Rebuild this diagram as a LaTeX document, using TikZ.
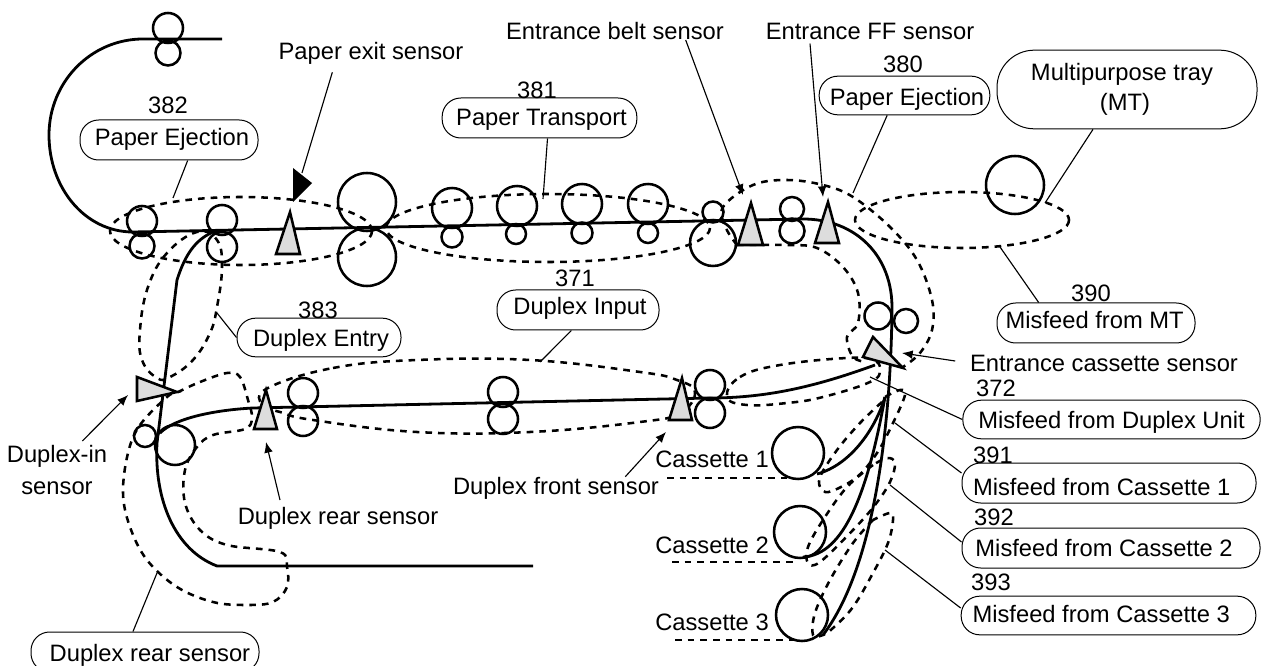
\documentclass[tikz,border=0pt]{standalone}
\usepackage{fontspec}
\setmainfont{Liberation Sans}
\usepackage{xcolor}
\definecolor{sensorfill}{HTML}{DDDDDD}
\usetikzlibrary{arrows.meta,positioning}
\tikzset{
  sheet/.style   = {line width=2.1pt},
  roller/.style  = {line width=1.9pt},
  zone/.style    = {line width=1.9pt,dash pattern=on 5pt off 4.5pt},
  sensor/.style  = {draw,line width=1.9pt,fill=sensorfill},
  pill/.style    = {draw,line width=0.75pt,rounded corners=14pt,inner sep=0pt,
                    text height=12.8pt,text depth=0pt},
  lbl/.style     = {inner sep=0pt,align=center},
  leader/.style  = {line width=0.85pt},
  sig/.style     = {leader,-{Latex[length=8pt,width=6.5pt]}},
}
\newcommand{\pilltxt}[3]{\kern#1\smash{\raisebox{#2}{#3}}\kern-#1\relax}
\begin{document}
\begin{tikzpicture}[x=0.75pt,y=-0.75pt,font=\fontsize{17.8}{22}\selectfont]
  \useasboundingbox (0,0) rectangle (1263,666);
  % paper path
  \draw[sheet] (222,39) -- (143,39) .. controls (91,39) and (49,82) .. (49,135)
     .. controls (49,188) and (85,232) .. (133,232) -- (803,219)
     .. controls (855,219) and (893,255) .. (892,310)
     .. controls (891,400) and (880,560) .. (823,635);
  \draw[sheet] (213,232) .. controls (195,240) and (185,255) .. (177,280) -- (157,443)
     .. controls (154,500) and (175,550) .. (217,566) -- (533,566);
  \draw[sheet] (160,433) .. controls (175,418) and (215,410) .. (253,408) -- (710,398)
     .. controls (770,398) and (820,385) .. (875,365);
  \draw[sheet] (817,474) .. controls (850,465) and (875,430) .. (885,397);
  \draw[sheet] (803,557) .. controls (845,555) and (868,490) .. (885,397);
  % rollers
  \foreach \x/\y/\r in {168/28/15,168/53/12.5,142/221/15,142/246/12.5,222/220/15,222/247/15,
      367/202/29,367/257/29,452/208/20,452/237/10.5,517/206/20,516/234/10,582/204/20,582/233/10.5,
      648/204/20,648/233/10,713/212/10.5,713/243/23,792/209/12,792/231/12.5,1015/185/29,
      878/316/13.5,906/321/12,145/436/11,175/445/20,303/393/15,303/421/15,503/392/15,503/419/15,
      710/385/15,710/413/15,798/453/26,800/532/26,802/615/26}{
    \draw[roller] (\x,\y) circle (\r);
  }
  % cassette stacks
  \draw[zone] (667,478) -- (787,478);
  \draw[zone] (672,562) -- (795,562);
  \draw[zone] (675,640) -- (797,640);
  % jam zones
  \draw[zone] (241,231) ellipse [x radius=131,y radius=34];
  \draw[zone] (548,228) ellipse [x radius=162,y radius=34];
  \draw[zone] (962,220) ellipse [x radius=107,y radius=28];
  \draw[zone] plot[smooth,tension=.6] coordinates {(737,245) (726,228) (723,207) (753,185) (787,180) (823,185)
     (853,197) (890,227) (917,260) (932,300) (932,330) (920,353) (903,367)};
  \draw[zone] plot[smooth,tension=.6] coordinates {(737,245) (787,245) (817,248) (843,267) (858,293)
     (858,323) (847,337) (853,357) (866,362)};
  \draw[zone] plot[smooth cycle,tension=.7] coordinates {(268,388) (333,368) (417,360) (530,360) (640,372)
     (677,380) (695,392) (680,413) (640,422) (530,432) (417,432) (313,420) (280,412) (262,405)};
  \draw[zone] plot[smooth cycle,tension=.7] coordinates {(727,397) (740,377) (780,365) (847,358) (873,360)
     (880,370) (870,382) (823,397) (787,403) (747,405)};
  \draw[zone] plot[smooth cycle,tension=.7] coordinates {(197,232) (167,253) (148,287) (140,330) (142,360)
     (157,378) (170,377) (193,360) (210,333) (217,307) (222,267) (217,240)};
  \draw[zone] plot[smooth cycle,tension=.6] coordinates {(178,392) (200,382) (227,373) (240,377) (248,400)
     (252,418) (245,429) (213,435) (197,447) (185,470) (185,503) (200,530) (227,545) (280,552) (287,567)
     (287,587) (273,602) (247,605) (213,602) (177,587) (147,560) (130,527) (123,493) (128,453) (140,425) (167,397)};
  \draw[zone] plot[smooth,tension=.6] coordinates {(882,402) (860,423) (837,450) (820,477) (822,490) (832,491)
     (857,477) (877,453) (893,423) (905,395) (900,390) (885,397)};
  \draw[zone] plot[smooth,tension=.6] coordinates {(873,465) (847,487) (823,520) (808,547) (808,563) (820,562)
     (853,530) (875,505) (890,482) (895,463) (887,458) (873,465)};
  \draw[zone] plot[smooth,tension=.6] coordinates {(873,520) (853,543) (830,580) (815,613) (813,635) (823,635)
     (833,628) (853,607) (873,573) (888,543) (893,520) (890,513) (873,520)};
  % sensors
  \draw[sensor] (290,212) -- (276,254) -- (300,254) -- cycle;
  \draw[sensor] (751,203) -- (738,245) -- (763,245) -- cycle;
  \draw[sensor] (828,202) -- (815,243) -- (839,243) -- cycle;
  \draw[sensor] (873,337) -- (863,357) -- (903,368) -- cycle;
  \draw[sensor] (137,377) -- (137,401) -- (177,392) -- cycle;
  \draw[sensor] (266,390) -- (254,429) -- (277,429) -- cycle;
  \draw[sensor] (682,378) -- (669,420) -- (692,420) -- cycle;
  % labels
  \node[lbl] (lblExit) at (371,53) {Paper exit sensor};
  \node[lbl] (lblBelt) at (615,31) {Entrance belt sensor};
  \node[lbl] (lblFF) at (870,31) {Entrance FF sensor};
  \node[lbl] (lblCass) at (1104,363) {Entrance cassette sensor};
  \node[lbl] (lblIn) at (57,470) {Duplex-in\\[2pt]sensor};
  \node[lbl] (lblRear) at (338,518) {Duplex rear sensor};
  \node[lbl] (lblFront) at (556,488) {Duplex front sensor};
  \node[lbl] (lblOne) at (712,459) {Cassette 1};
  \node[lbl] (lblTwo) at (712,545) {Cassette 2};
  \node[lbl] (lblThree) at (712,622) {Cassette 3};
  \foreach \nm/\x/\y in {382/168/105,380/903/64,381/537/90,371/575/278,383/318/310,390/1091/293,
      372/996/388,391/993/455,392/994/517,393/991/582}{
    \node[lbl] (num\nm) at (\x,\y) {\nm};
  }
  % pills
  \node[pill,minimum width=133.5pt,minimum height=30pt] (pillEject) at (169,140) {\pilltxt{2.2pt}{2.2pt}{Paper Ejection}};
  \node[pill,minimum width=128pt,minimum height=29pt] (pillFeed) at (904.5,95.5) {\pilltxt{1.9pt}{-1pt}{Paper Ejection}};
  \node[draw,line width=0.75pt,rounded corners=28pt,inner sep=0pt,align=center,minimum width=195pt,minimum height=59pt]
     (pillTray) at (1127,89.5) {Multipurpose tray\hspace*{7.5pt}\\(MT)\hspace*{3pt}};
  \node[pill,minimum width=146pt,minimum height=30pt] (pillTrans) at (539.5,118) {\pilltxt{1.5pt}{0.5pt}{Paper Transport}};
  \node[pill,minimum width=121.5pt,minimum height=30pt] (pillInput) at (578,310) {\pilltxt{1.5pt}{3pt}{Duplex Input}};
  \node[pill,minimum width=123pt,minimum height=29pt] (pillEntry) at (319,337.5) {\pilltxt{1.5pt}{0pt}{Duplex Entry}};
  \node[pill,minimum width=148.5pt,minimum height=30pt] (pillTrayMis) at (1096,323) {\pilltxt{-1pt}{2.2pt}{Misfeed from MT}};
  \node[pill,minimum width=223pt,minimum height=29pt] (pillDup) at (1111.5,419.5) {Misfeed from Duplex Unit};
  \node[pill,minimum width=220.5pt,minimum height=30pt] (pillOne) at (1109,483) {\pilltxt{-5.5pt}{-3pt}{Misfeed from Cassette 1}};
  \node[pill,minimum width=223.5pt,minimum height=30pt] (pillTwo) at (1111,548) {\pilltxt{-5.2pt}{0pt}{Misfeed from Cassette 2}};
  \node[pill,minimum width=221pt,minimum height=29pt] (pillThree) at (1108.5,615.5) {\pilltxt{-5.5pt}{1.5pt}{Misfeed from Cassette 3}};
  \node[pill,minimum width=171pt,minimum height=30pt] (pillRear) at (145,652) {\pilltxt{3.7pt}{-0.7pt}{Duplex rear sensor}};
  % leader ends
  \coordinate (endExit) at (302,173);
  \coordinate (endBelt) at (743,195);
  \coordinate (endFF) at (823,197);
  \coordinate (endCass) at (902,353);
  \coordinate (endIn) at (128,395);
  \coordinate (endRear) at (266,442);
  \coordinate (endFront) at (666,432);
  \coordinate (endEject) at (173,198);
  \coordinate (endFeed) at (853,193);
  \coordinate (endTray) at (1045,203);
  \coordinate (endTrans) at (543,199);
  \coordinate (endInput) at (540,362);
  \coordinate (endEntry) at (217,313);
  \coordinate (endMis) at (1000,247);
  \coordinate (endDup) at (870,377);
  \coordinate (endOne) at (895,423);
  \coordinate (endTwo) at (890,485);
  \coordinate (endThree) at (885,550);
  \coordinate (endBack) at (157,573);
  % leaders
  \draw[leader] ([xshift=-29pt,yshift=-6pt]lblExit.south) -- (endExit);
  \fill (293,202) -- (293,168) -- (312,183) -- cycle;
  \draw[sig] ([xshift=53pt]lblBelt.south) -- (endBelt);
  \draw[sig] ([xshift=-45pt,yshift=-3pt]lblFF.south) -- (endFF);
  \draw[sig] ([xshift=-11pt,yshift=1.5pt]lblCass.west) -- (endCass);
  \draw[sig] ([xshift=19pt,yshift=3pt]lblIn.north) -- (endIn);
  \draw[sig] ([xshift=-43.5pt,yshift=5pt]lblRear.north) -- (endRear);
  \draw[sig] ([xshift=52pt]lblFront.north) -- (endFront);
  \draw[leader] ([xshift=14pt]pillEject.south) -- (endEject);
  \draw[leader] ([xshift=-13pt]pillFeed.south) -- (endFeed);
  \draw[leader] ([xshift=-25.5pt]pillTray.south) -- (endTray);
  \draw[leader] ([xshift=6pt]pillTrans.south) -- (endTrans);
  \draw[leader] ([xshift=-5pt]pillInput.south) -- (endInput);
  \draw[leader] (pillEntry.west) -- (endEntry);
  \draw[leader] ([xshift=-43pt]pillTrayMis.north) -- (endMis);
  \draw[leader] (pillDup.west) -- (endDup);
  \draw[leader] ([yshift=7.5pt]pillOne.west) -- (endOne);
  \draw[leader] ([yshift=4.5pt]pillTwo.west) -- (endTwo);
  \draw[leader] ([yshift=5.6pt]pillThree.west) -- (endThree);
  \draw[leader] ([xshift=-9pt]pillRear.north) -- (endBack);
\end{tikzpicture}
\end{document}
